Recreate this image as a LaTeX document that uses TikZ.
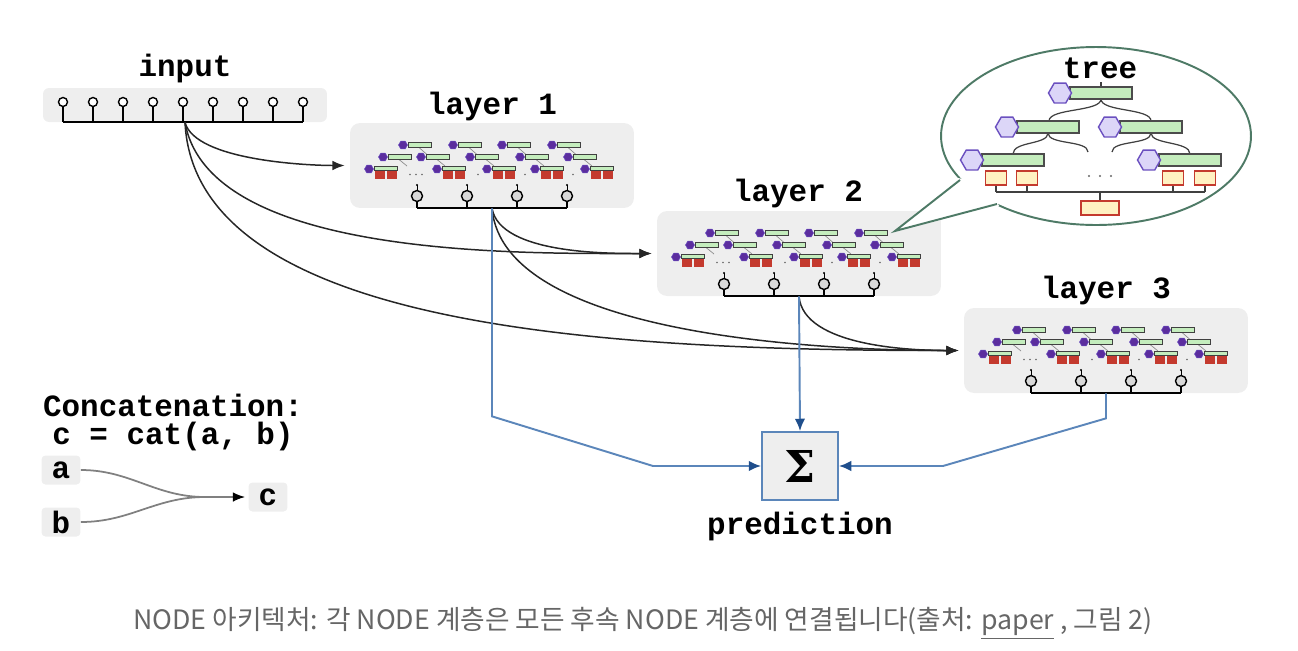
\documentclass[tikz,border=0pt]{standalone}
\usepackage{fontspec}
\setmonofont{Liberation Mono}
\newfontfamily\capfont{Noto Sans CJK KR}
\newfontfamily\sigfont{DejaVu Serif}
\usetikzlibrary{arrows.meta,calc,positioning,shapes.geometric}
\definecolor{panelgray}{HTML}{EEEEEE}
\definecolor{predline}{HTML}{5B86BA}
\definecolor{predtip}{HTML}{1F4E8C}
\definecolor{hexdark}{HTML}{5B2D9E}
\definecolor{hexlight}{HTML}{DCD6F8}
\definecolor{hexedge}{HTML}{6B50C0}
\definecolor{bargreen}{HTML}{C4EDBD}
\definecolor{leafred}{HTML}{C43A2E}
\definecolor{leafyellow}{HTML}{FFF1C2}
\definecolor{bubbleedge}{HTML}{4E7A66}
\definecolor{captext}{HTML}{666666}
\begin{document}
\begin{tikzpicture}[>={Latex[length=7pt,width=5.5pt]},x=0.02cm,y=-0.02cm,
	lbl/.style={font=\fontsize{17.6}{15.4}\selectfont\ttfamily\bfseries,inner sep=0pt},
	panel/.style={fill=panelgray,rounded corners=0.2cm,minimum width=5.68cm,minimum height=1.7cm,inner sep=0pt},
	flow/.style={->,line width=0.85pt,draw=black!85,shorten >=0.1cm},
	pred/.style={-{Latex[length=7pt,width=6pt,color=predtip]},line width=1.1pt,draw=predline},
	hexs/.style={regular polygon,regular polygon sides=6,minimum size=0.18cm,inner sep=0pt,fill=hexdark,draw=hexedge,line width=0.3pt},
	hexb/.style={regular polygon,regular polygon sides=6,minimum size=0.46cm,inner sep=0pt,fill=hexlight,draw=hexedge,line width=0.8pt},
	bars/.style={fill=bargreen,draw=black!75,line width=0.4pt},
	barb/.style={fill=bargreen,draw=black!70,line width=0.8pt},
	leafs/.style={fill=leafred},
	leafb/.style={fill=leafyellow,draw=leafred,line width=0.9pt},
	tline/.style={line width=0.7pt,draw=black!75},
	keybox/.style={lbl,fill=panelgray,rounded corners=0.08cm,minimum width=0.78cm,minimum height=0.58cm},
	layericon/.pic={
		\foreach \x in {-89,-39,10,60}{
			\draw[black!45,line width=0.4pt] (\x+16,-18) -- (\x+24,-11);
			\draw[bars] (\x+5,-23) rectangle (\x+28,-18);
			\node[hexs] at (\x,-20.5) {};}
		\foreach \x in {-109,-71,-22,28,76}{
			\draw[black!45,line width=0.4pt] (\x+16,-6) -- (\x+24,0.5);
			\draw[bars] (\x+5,-11) rectangle (\x+28,-6);
			\node[hexs] at (\x,-8.5) {};}
		\foreach \x in {-123,-55,-5,43,93}{
			\draw[bars] (\x+5,0.5) rectangle (\x+28,5);
			\fill[leafs] (\x+6,5.5) rectangle (\x+16,13.5);
			\fill[leafs] (\x+18,5.5) rectangle (\x+28,13.5);
			\node[hexs] at (\x,3.5) {};}
		\foreach \x in {-82,-76,-70,-14,33,81} \fill[black!60] (\x,9) circle (0.9);
		\foreach \x in {-75,-25,25,75}{
			\fill (\x,19.5) circle (1.2);
			\draw[line width=0.5pt] (\x,19.5) -- (\x,25);
			\draw[line width=0.8pt] (\x,35) -- (\x,42.5);
			\draw[line width=0.8pt,fill=black!15] (\x,30.5) circle (5.5);}
		\draw[line width=0.9pt] (-75,42.5) -- (75,42.5);
	}]
	\useasboundingbox (0,0) rectangle (1298,650);
	% input
	\node[lbl] (inlbl) at (185,68) {input};
	\node[fill=panelgray,rounded corners=0.12cm,minimum width=5.68cm,minimum height=0.68cm,inner sep=0pt] (in) at (185,105) {};
	\draw[line width=0.9pt] (63,122) -- (303,122);
	\foreach \x in {63,93,...,303}{
		\draw[line width=0.8pt] (\x,106) -- (\x,122);
		\draw[line width=0.8pt,fill=white] (\x,102) circle (4.5);}
	% layers
	\node[panel] (l1) at (492,165.5) {};
	\node[panel] (l2) at (799,253.5) {};
	\node[panel] (l3) at (1106,350.5) {};
	\foreach \l in {l1,l2,l3} \pic at (\l) {layericon};
	\node[lbl] (l1lbl) at (492,106) {layer 1};
	\node[lbl] (l2lbl) at (798,193) {layer 2};
	\node[lbl] (l3lbl) at (1106,290) {layer 3};
	\draw[flow] (in.south) to[out=-75,in=180,looseness=0.6] (l1.west);
	\draw[flow] (in.south) to[out=-80,in=180,looseness=0.72] (l2.west);
	\draw[flow] (in.south) .. controls +(10,208) and +(-350,0) .. (l3.west);
	\draw[flow] (l1.south) to[out=-80,in=180,looseness=0.7] (l2.west);
	\draw[flow] (l1.south) to[out=-85,in=180,looseness=0.68] (l3.west);
	\draw[flow] (l2.south) to[out=-85,in=180,looseness=0.75] (l3.west);
	% prediction
	\node[draw=predline,fill=panelgray,line width=1.1pt,minimum width=1.52cm,minimum height=1.36cm,inner sep=0pt,font=\fontsize{25}{25}\selectfont\sigfont\bfseries] (sig) at (800,466) {Σ};
	\node[lbl] (siglbl) at (800,526) {prediction};
	\draw[pred] (l1.south) -- ++(0,208) -- ($(sig.west)+(-108,0)$) -- (sig.west);
	\draw[pred] (l2.south) -- (sig.north);
	\draw[pred] (l3.south) -- ++(0,25) -- ($(sig.east)+(104,0)$) -- (sig.east);
	% tree bubble
	\coordinate (tip) at (895,231);
	\draw[bubbleedge,fill=white,line width=1.1pt] (1096,136) ellipse [x radius=3.1cm,y radius=1.78cm];
	\fill[white] (958,178) -- (tip) -- (999,206) -- (990,185) -- cycle;
	\draw[bubbleedge,line width=1.1pt] (960,180) -- (tip) -- (997,204);
	\node[lbl] (treelbl) at (1100,68) {tree};
	\draw[tline] (1101,82) -- (1101,87);
	\draw[tline] (1101,99) .. controls (1101,112) and (1049,108) .. (1049,121);
	\draw[tline] (1101,99) .. controls (1101,112) and (1151,108) .. (1151,121);
	\draw[tline] (1048,133) .. controls (1048,145) and (1013,141) .. (1013,154);
	\draw[tline] (1048,133) .. controls (1048,145) and (1088,140) .. (1088,152);
	\draw[tline] (1151,133) .. controls (1151,145) and (1112,140) .. (1112,152);
	\draw[tline] (1151,133) .. controls (1151,145) and (1190,141) .. (1190,154);
	\foreach \hx/\hy in {1060/93,1007/127,1110/127,972/160,1149/160}{
		\draw[barb] (\hx+10,\hy-6) rectangle (\hx+72,\hy+6);
		\node[hexb] at (\hx,\hy) {};}
	\draw[tline] (996,192) -- (1205,192);
	\draw[tline] (1100,192) -- (1100,201);
	\foreach \x in {996,1027,1173,1205}{
		\draw[tline] (\x,185) -- (\x,192);
		\draw[leafb] (\x-10.5,171) rectangle (\x+10.5,185);}
	\draw[leafb] (1081,201) rectangle (1119,215);
	\foreach \x in {1089,1100,1111} \fill[black!60] (\x,176) circle (1.2);
	% concatenation
	\node[lbl,anchor=base] (catlbl) at (173,416) {Concatenation:};
	\node[lbl,anchor=base] (catdef) at (173,444) {c = cat(a, b)};
	\node[keybox] (a) at (61,470) {a};
	\node[keybox] (b) at (61,522) {b};
	\node[keybox] (c) at (268,497) {c};
	\coordinate (merge) at (205,497);
	\draw[line width=1pt,black!50] (a.east) to[out=0,in=180] (merge);
	\draw[line width=1pt,black!50] (b.east) to[out=0,in=180] (merge);
	\draw[-{Latex[length=7pt,width=5.5pt,color=black]},line width=1pt,black!50,shorten >=0.06cm] (merge) -- (c.west);
	% caption
	\node[font=\capfont\fontsize{15.2}{18}\selectfont,text=captext] (cap) at (643,623) {NODE 아키텍처: 각 NODE 계층은 모든 후속 NODE 계층에 연결됩니다(출처: \underline{paper} , 그림 2)};
\end{tikzpicture}
\end{document}
